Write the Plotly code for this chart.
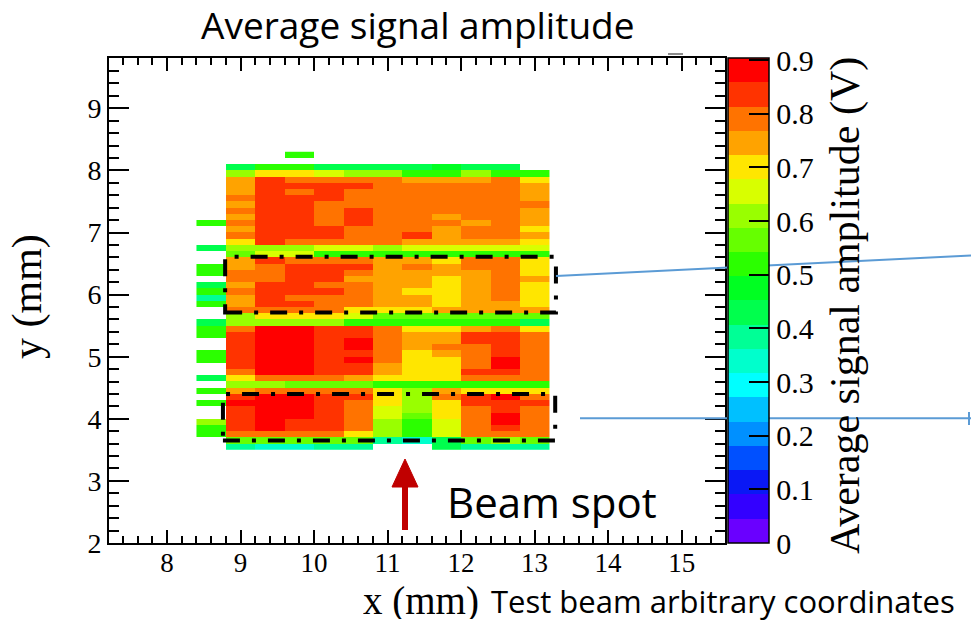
import plotly.graph_objects as go

# ---------------- data ----------------
# bin centres (mm); columns are 0.4 mm wide, rows 0.1 mm tall
x_centers = [8.6, 9.0, 9.4, 9.8, 10.2, 10.6, 11.0, 11.4, 11.8, 12.2, 12.6, 13.0]
# rows listed from the top (8.25 mm) down to the bottom (3.55 mm)
y_centers_top_down = [8.25, 8.15, 8.05, 7.95, 7.85, 7.75, 7.65, 7.55, 7.45, 7.35, 7.25, 7.15,
                      7.05, 6.95, 6.85, 6.75, 6.65, 6.55, 6.45, 6.35, 6.25, 6.15, 6.05, 5.95,
                      5.85, 5.75, 5.65, 5.55, 5.45, 5.35, 5.25, 5.15, 5.05, 4.95, 4.85, 4.75,
                      4.65, 4.55, 4.45, 4.35, 4.25, 4.15, 4.05, 3.95, 3.85, 3.75, 3.65, 3.55]
N = None
# average signal amplitude (V), rows top -> bottom
amp_top_down = [
    [N, N, N, 0.52, N, N, N, N, N, N, N, N],
    [N, N, N, N, N, N, N, N, N, N, N, N],
    [N, 0.41, 0.50, 0.50, 0.43, 0.43, 0.41, 0.41, 0.47, 0.41, 0.41, N],
    [N, 0.61, 0.70, 0.70, 0.655, 0.61, 0.59, 0.52, 0.52, 0.59, 0.52, 0.50],
    [N, 0.745, 0.836, 0.79, 0.79, 0.79, 0.79, 0.745, 0.745, 0.745, 0.79, 0.70],
    [N, 0.745, 0.836, 0.836, 0.836, 0.836, 0.79, 0.79, 0.79, 0.79, 0.79, 0.745],
    [N, 0.745, 0.836, 0.79, 0.836, 0.79, 0.79, 0.79, 0.79, 0.79, 0.79, 0.745],
    [N, 0.79, 0.836, 0.836, 0.836, 0.79, 0.79, 0.79, 0.79, 0.79, 0.79, 0.745],
    [N, 0.745, 0.836, 0.836, 0.79, 0.79, 0.79, 0.79, 0.79, 0.79, 0.79, 0.79],
    [N, 0.79, 0.836, 0.836, 0.79, 0.836, 0.79, 0.79, 0.79, 0.79, 0.79, 0.745],
    [N, 0.745, 0.836, 0.836, 0.79, 0.836, 0.79, 0.79, 0.745, 0.79, 0.79, 0.745],
    [0.50, 0.79, 0.836, 0.836, 0.79, 0.836, 0.79, 0.79, 0.79, 0.745, 0.79, 0.745],
    [N, 0.745, 0.836, 0.836, 0.836, 0.79, 0.79, 0.79, 0.745, 0.79, 0.79, 0.70],
    [N, 0.79, 0.836, 0.836, 0.836, 0.79, 0.79, 0.836, 0.745, 0.79, 0.79, 0.745],
    [N, 0.70, 0.836, 0.79, 0.79, 0.79, 0.79, 0.745, 0.745, 0.745, 0.745, 0.70],
    [0.41, 0.61, 0.63, 0.63, 0.655, 0.655, 0.61, 0.655, 0.655, 0.655, 0.655, 0.655],
    [N, 0.565, 0.655, 0.655, 0.52, 0.52, 0.52, 0.52, 0.52, 0.52, 0.52, 0.52],
    [N, 0.745, 0.836, 0.79, 0.79, 0.79, 0.745, 0.745, 0.70, 0.79, 0.79, 0.70],
    [0.52, 0.745, 0.79, 0.836, 0.836, 0.836, 0.745, 0.79, 0.745, 0.79, 0.79, 0.70],
    [0.52, 0.79, 0.79, 0.836, 0.836, 0.79, 0.745, 0.745, 0.745, 0.745, 0.79, 0.70],
    [N, 0.79, 0.79, 0.836, 0.836, 0.745, 0.745, 0.745, 0.70, 0.745, 0.79, 0.745],
    [0.45, 0.745, 0.836, 0.836, 0.79, 0.79, 0.745, 0.745, 0.70, 0.745, 0.79, 0.70],
    [0.50, 0.79, 0.836, 0.836, 0.836, 0.79, 0.745, 0.70, 0.70, 0.745, 0.79, 0.70],
    [0.40, 0.745, 0.836, 0.79, 0.79, 0.79, 0.745, 0.745, 0.70, 0.745, 0.79, 0.70],
    [0.50, 0.745, 0.836, 0.836, 0.79, 0.79, 0.745, 0.745, 0.70, 0.745, 0.745, 0.70],
    [N, 0.79, 0.79, 0.79, 0.79, 0.70, 0.70, 0.70, 0.745, 0.745, 0.745, 0.745],
    [N, 0.61, 0.70, 0.70, 0.70, 0.655, 0.565, 0.565, 0.565, 0.565, 0.565, 0.565],
    [0.41, 0.59, 0.61, 0.61, 0.61, 0.52, 0.50, 0.50, 0.50, 0.50, 0.50, 0.45],
    [0.50, 0.79, 0.87, 0.87, 0.836, 0.836, 0.79, 0.70, 0.70, 0.745, 0.79, 0.70],
    [0.50, 0.836, 0.88, 0.88, 0.836, 0.836, 0.79, 0.745, 0.745, 0.836, 0.836, 0.79],
    [N, 0.836, 0.88, 0.88, 0.836, 0.87, 0.79, 0.745, 0.745, 0.836, 0.836, 0.79],
    [N, 0.836, 0.88, 0.88, 0.836, 0.87, 0.79, 0.745, 0.79, 0.79, 0.836, 0.79],
    [0.50, 0.836, 0.88, 0.88, 0.836, 0.836, 0.79, 0.70, 0.745, 0.79, 0.836, 0.79],
    [0.50, 0.836, 0.88, 0.88, 0.836, 0.88, 0.79, 0.70, 0.70, 0.79, 0.88, 0.79],
    [N, 0.836, 0.88, 0.88, 0.836, 0.836, 0.745, 0.68, 0.70, 0.79, 0.88, 0.79],
    [N, 0.79, 0.87, 0.87, 0.836, 0.836, 0.745, 0.68, 0.70, 0.836, 0.836, 0.79],
    [0.45, 0.70, 0.79, 0.79, 0.79, 0.745, 0.70, 0.70, 0.70, 0.79, 0.79, 0.79],
    [N, 0.61, 0.61, 0.565, 0.565, 0.565, 0.52, 0.52, 0.52, 0.50, 0.52, 0.52],
    [0.50, 0.745, 0.79, 0.79, 0.79, 0.79, 0.70, 0.61, 0.745, 0.70, 0.70, 0.70],
    [N, 0.836, 0.88, 0.88, 0.836, 0.836, 0.70, 0.61, 0.79, 0.836, 0.88, 0.79],
    [0.50, 0.87, 0.88, 0.88, 0.836, 0.79, 0.70, 0.59, 0.72, 0.836, 0.836, 0.836],
    [N, 0.836, 0.88, 0.88, 0.836, 0.79, 0.655, 0.59, 0.70, 0.79, 0.836, 0.79],
    [N, 0.836, 0.88, 0.88, 0.836, 0.79, 0.655, 0.565, 0.70, 0.79, 0.88, 0.79],
    [0.61, 0.836, 0.88, 0.836, 0.836, 0.79, 0.61, 0.52, 0.67, 0.79, 0.88, 0.79],
    [0.52, 0.836, 0.88, 0.836, 0.836, 0.79, 0.61, 0.52, 0.655, 0.79, 0.836, 0.79],
    [0.52, 0.79, 0.79, 0.79, 0.79, 0.70, 0.59, 0.52, 0.655, 0.79, 0.79, 0.79],
    [N, 0.565, 0.565, 0.565, 0.565, 0.565, 0.40, 0.33, 0.45, 0.565, 0.61, 0.565],
    [N, 0.40, 0.33, 0.33, 0.40, 0.40, N, N, 0.45, 0.40, 0.40, 0.40],
]

x_ticks = [8, 9, 10, 11, 12, 13, 14, 15]
y_ticks = [2, 3, 4, 5, 6, 7, 8, 9]
cbar_ticks = [0, 0.1, 0.2, 0.3, 0.4, 0.5, 0.6, 0.7, 0.8, 0.9]
cbar_labels = ["0", "0.1", "0.2", "0.3", "0.4", "0.5", "0.6", "0.7", "0.8", "0.9"]

# regions framed by the dash-dot boxes (mm)
box_upper = dict(x0=8.79, x1=13.29, y0=5.71, y1=6.61)
box_lower = dict(x0=8.76, x1=13.28, y0=3.65, y1=4.40)

# ---------------- styling ----------------
band_colors = ["#6a00ff", "#3300ff", "#0a18f5", "#0050ff", "#0090ff", "#00c0ff",
               "#00ffff", "#00ffcc", "#00ff96", "#00ff4d", "#00ff22", "#2bff00",
               "#66ff00", "#99ff00", "#d8ff00", "#ffe600", "#ffa300", "#ff7300",
               "#ff3300", "#ff0000"]
nb = len(band_colors)
colorscale = []
for k, c in enumerate(band_colors):
    colorscale.append([k / nb, c])
    colorscale.append([(k + 1) / nb, c])

y_centers = y_centers_top_down[::-1]
amp = amp_top_down[::-1]

L, R, T, B = 109, 246, 58, 79
W, H = 971, 622
PW, PH = W - L - R, H - T - B


def px(x):
    return (x - L) / PW


def py(y):
    return (H - B - y) / PH


SERIF = "Liberation Serif"
SANS = "Open Sans"

fig = go.Figure()
fig.add_trace(go.Heatmap(
    x=x_centers, y=y_centers, z=amp,
    zmin=0, zmax=0.0452 * nb,
    colorscale=colorscale,
    hoverinfo="skip",
    colorbar=dict(
        thickness=41, thicknessmode="pixels",
        len=1, lenmode="fraction", y=0.5, yanchor="middle", ypad=0,
        x=px(728), xanchor="left", xpad=0,
        outlinewidth=1.5, outlinecolor="black",
        tickmode="array", tickvals=cbar_ticks, ticktext=cbar_labels,
        ticks="inside", ticklen=20, tickwidth=2, tickcolor="black",
        tickfont=dict(family=SERIF, size=30, color="black"),
    ),
))

axis_common = dict(
    showline=True, linecolor="black", linewidth=2, mirror="allticks",
    ticks="inside", tickwidth=2, tickcolor="black",
    showgrid=False, zeroline=False,
)
fig.update_xaxes(range=[7.21, 15.59], tickvals=x_ticks, ticklen=13,
                 tickfont=dict(family=SERIF, size=27, color="black"),
                 ticklabelstandoff=-5,
                 minor=dict(dtick=0.2, tick0=8, ticks="inside", ticklen=7,
                            tickwidth=2, tickcolor="black"),
                 **axis_common)
fig.update_yaxes(range=[2, 9.81], tickvals=y_ticks, ticklen=20,
                 tickfont=dict(family=SERIF, size=28, color="black"),
                 minor=dict(dtick=0.2, tick0=2, ticks="inside", ticklen=10,
                            tickwidth=2, tickcolor="black"),
                 **axis_common)

dash = "17px,12px,4px,12px"
shapes = []
for b in (box_upper, box_lower):
    shapes.append(dict(type="rect", xref="x", yref="y", **b,
                       line=dict(color="black", width=4, dash=dash),
                       fillcolor="rgba(0,0,0,0)"))
# red arrow (beam spot)
shapes.append(dict(type="line", xref="paper", yref="paper",
                   x0=px(405), x1=px(405), y0=py(530), y1=py(484),
                   line=dict(color="#c00000", width=6)))
shapes.append(dict(type="path", xref="paper", yref="paper",
                   path=f"M {px(405)} {py(459)} L {px(392)} {py(487)} L {px(418)} {py(487)} Z",
                   fillcolor="#c00000", line=dict(color="#c00000", width=1)))
# blue callout lines
blue = "#5b9bd5"
shapes.append(dict(type="line", xref="paper", yref="paper",
                   x0=px(556), y0=py(276), x1=px(971), y1=py(255.5),
                   line=dict(color=blue, width=2)))
shapes.append(dict(type="line", xref="paper", yref="paper",
                   x0=px(580), y0=py(418.3), x1=px(971), y1=py(418.3),
                   line=dict(color=blue, width=2)))
shapes.append(dict(type="line", xref="paper", yref="paper",
                   x0=px(969), y0=py(412), x1=px(969), y1=py(425),
                   line=dict(color=blue, width=2)))
# small grey mark above frame
shapes.append(dict(type="line", xref="paper", yref="paper",
                   x0=px(668), y0=py(54), x1=px(683), y1=py(54),
                   line=dict(color="#666666", width=1.5)))

annotations = [
    dict(text="Average signal amplitude", x=px(418), y=py(24), xref="paper", yref="paper",
         xanchor="center", yanchor="middle", showarrow=False,
         font=dict(family=SANS, size=37, color="black")),
    dict(text="Beam spot", x=px(552), y=py(501), xref="paper", yref="paper",
         xanchor="center", yanchor="middle", showarrow=False,
         font=dict(family=SANS, size=42, color="black")),
    dict(text="x (mm)", x=px(421), y=py(601), xref="paper", yref="paper",
         xanchor="center", yanchor="middle", showarrow=False, height=36,
         font=dict(family=SERIF, size=39, color="black")),
    dict(text="Test beam arbitrary coordinates", x=px(489), y=py(601), xref="paper", yref="paper",
         xanchor="left", yanchor="middle", showarrow=False,
         font=dict(family=SANS, size=31, color="black")),
    dict(text="y (mm)", x=px(27), y=py(297), xref="paper", yref="paper",
         xanchor="center", yanchor="middle", showarrow=False, textangle=-90,
         font=dict(family=SERIF, size=42, color="black")),
    dict(text="Average signal amplitude (V)", x=px(845), y=py(306), xref="paper", yref="paper",
         xanchor="center", yanchor="middle", showarrow=False, textangle=-90,
         font=dict(family=SERIF, size=42, color="black")),
]

fig.update_layout(
    width=W, height=H, autosize=False,
    margin=dict(l=L, r=R, t=T, b=B, pad=0),
    paper_bgcolor="white", plot_bgcolor="white",
    shapes=shapes, annotations=annotations,
    showlegend=False,
)

fig.write_html("out.html")
